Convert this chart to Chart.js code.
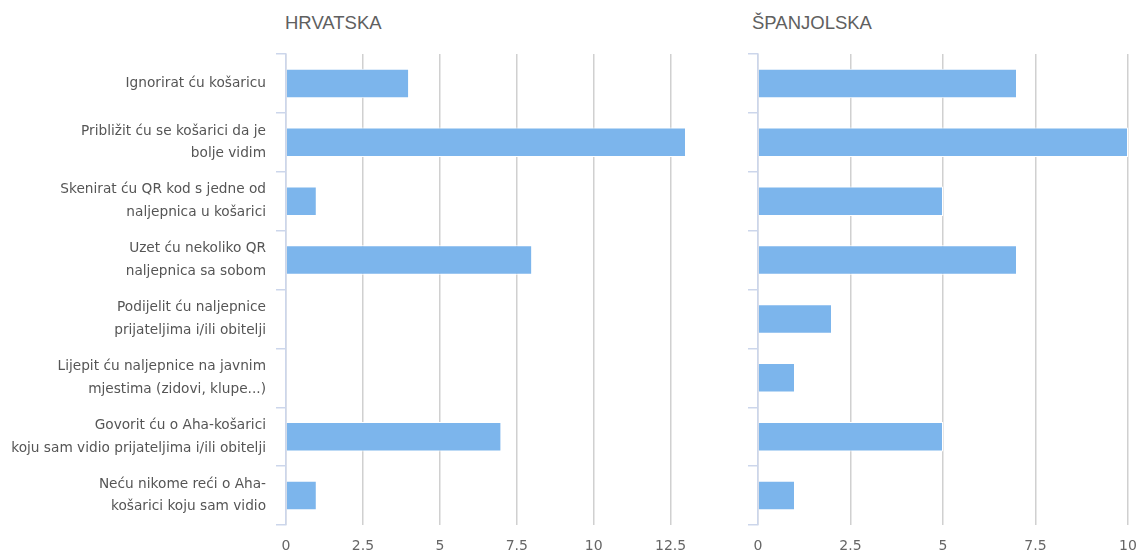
<!DOCTYPE html>
<html>
<head>
<meta charset="utf-8">
<script src="https://cdn.jsdelivr.net/npm/chart.js@4/dist/chart.umd.min.js"></script>
<style>
  body { margin: 0; background: #fff; }
  .wrap { position: relative; width: 1141px; height: 554px; }
  .panel { position: absolute; top: 0; height: 554px; }
  .title { position: absolute; top: 12px; font-family: "Liberation Sans", Arial, sans-serif; font-size: 18.5px; color: #606060; }
</style>
</head>
<body>
<div class="wrap">
  <div class="title" style="left:285px">HRVATSKA</div>
  <div class="title" style="left:752px">ŠPANJOLSKA</div>
  <div class="panel" style="left:0; width:705px"><canvas id="hrChart"></canvas></div>
  <div class="panel" style="left:720px; width:421px"><canvas id="esChart"></canvas></div>
</div>
<script>
// odgovori po kategorijama
const categories = [
  ["Ignorirat ću košaricu"],
  ["Približit ću se košarici da je", "bolje vidim"],
  ["Skenirat ću QR kod s jedne od", "naljepnica u košarici"],
  ["Uzet ću nekoliko QR", "naljepnica sa sobom"],
  ["Podijelit ću naljepnice", "prijateljima i/ili obitelji"],
  ["Lijepit ću naljepnice na javnim", "mjestima (zidovi, klupe...)"],
  ["Govorit ću o Aha-košarici", "koju sam vidio prijateljima i/ili obitelji"],
  ["Neću nikome reći o Aha-", "košarici koju sam vidio"]
];
const hrvatskaValues = [4, 13, 1, 8, 0, 0, 7, 1];
const spanjolskaValues = [7, 10, 5, 7, 2, 1, 5, 1];
const tickStep = 2.5;
const hrvatskaMax = 13;
const spanjolskaMax = 10;

const barColor = '#7cb5ec';
const gridColor = '#d0d0d0';
const axisColor = '#ccd6eb';
const labelFont = { family: '"DejaVu Sans", "Lucida Grande", sans-serif', size: 13.7, lineHeight: 1.65 };

function makeChart(id, values, max, yWidth, padRight, showLabels) {
  const ctx = document.getElementById(id).getContext('2d');
  return new Chart(ctx, {
    type: 'bar',
    data: {
      labels: categories,
      datasets: [{
        data: values,
        backgroundColor: barColor,
        borderColor: '#ffffff',
        borderWidth: 1,
        categoryPercentage: 1,
        barPercentage: 0.5
      }]
    },
    options: {
      indexAxis: 'y',
      responsive: true,
      maintainAspectRatio: false,
      animation: false,
      layout: { padding: { top: 54, bottom: 0, left: 0, right: padRight } },
      plugins: { legend: { display: false }, tooltip: { enabled: false } },
      scales: {
        x: {
          min: 0,
          max: max,
          ticks: {
            stepSize: tickStep,
            includeBounds: false,
            padding: 13,
            color: '#666',
            font: { family: '"DejaVu Sans", "Lucida Grande", sans-serif', size: 14 }
          },
          grid: { color: gridColor, drawTicks: false, lineWidth: 1.5 },
          border: { display: false },
          afterFit: (scale) => {
            // rubni tick labeli ne smiju suziti područje crtanja
            scale.height = 29;
            scale.paddingLeft = 0;
            scale.paddingRight = 0;
          }
        },
        y: {
          offset: true,
          ticks: {
            display: showLabels,
            padding: 10,
            color: '#555',
            font: labelFont
          },
          grid: {
            offset: true,
            drawOnChartArea: false,
            drawTicks: true,
            tickLength: 10,
            color: axisColor,
            lineWidth: 1.5
          },
          border: { display: true, color: axisColor, width: 1.5 },
          afterFit: (scale) => { scale.width = yWidth; }
        }
      }
    }
  });
}

makeChart('hrChart', hrvatskaValues, hrvatskaMax, 286, 19, true);
makeChart('esChart', spanjolskaValues, spanjolskaMax, 38, 13, false);
</script>
</body>
</html>
